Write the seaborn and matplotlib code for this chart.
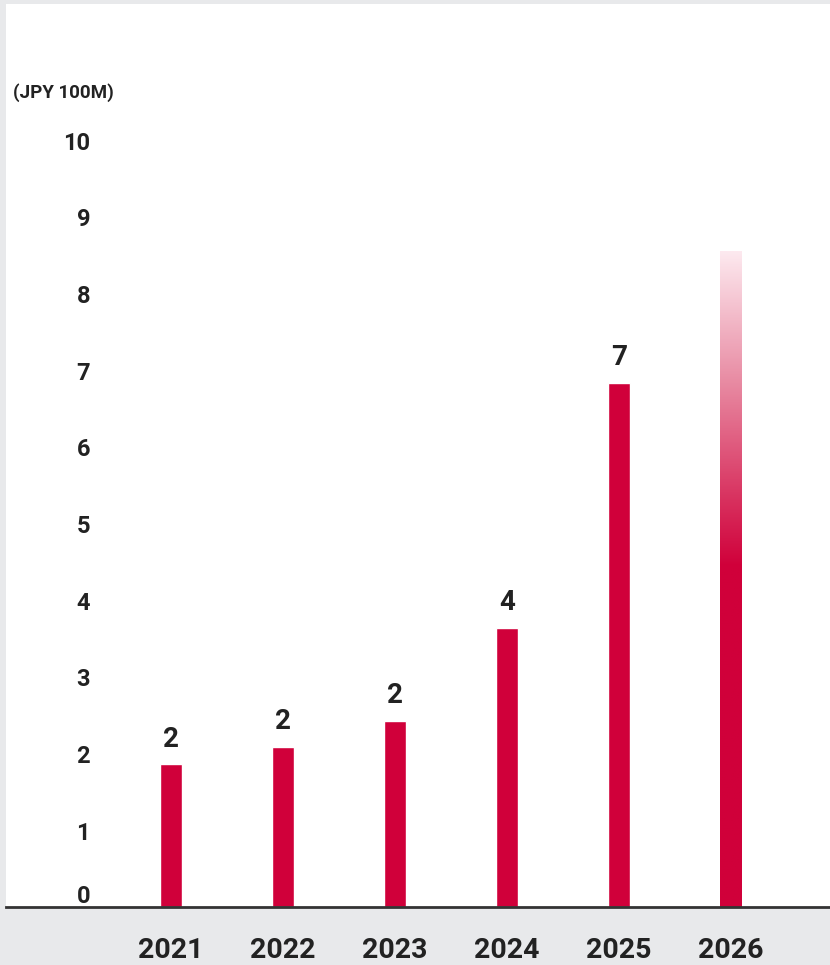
import numpy as np
import pandas as pd
import matplotlib.pyplot as plt
import seaborn as sns
from matplotlib.colors import LinearSegmentedColormap

# Data
years = ["2021", "2022", "2023", "2024", "2025", "2026"]
revenue = [1.86, 2.09, 2.43, 3.64, 6.83, 8.55]
bar_labels = ["2", "2", "2", "4", "7", ""]
y_ticks = [0, 1, 2, 3, 4, 5, 6, 7, 8, 9, 10]
unit_label = "(JPY 100M)"

RED = "#d0003a"
INK = "#222222"
GRAY = "#e8e9eb"

sns.set_style("white")
plt.rcParams["font.family"] = ["Roboto", "DejaVu Sans"]

W, H = 830, 965
fig = plt.figure(figsize=(W / 100, H / 100), dpi=100)
fig.patch.set_facecolor(GRAY)

# axes in pixel terms: left 6, right 830, top 4, bottom 907
ax = fig.add_axes([6 / W, (H - 907) / H, (830 - 6) / W, (907 - 4) / H])
ax.set_facecolor("white")

df = pd.DataFrame({"year": years, "value": revenue})
sns.barplot(data=df, x="year", y="value", color=RED, width=22 / 112,
            saturation=1, ax=ax)

# scales: 112 px per category, 76.7 px per unit, bar centre of 2021 at x=171
ax.set_xlim((6 - 171) / 112, (830 - 171) / 112)
ax.set_ylim(0, 903 / 76.7)

# gradient on the forecast bar
last = ax.patches[-1]
last.set_facecolor("none")
x0 = last.get_x()
x1 = x0 + last.get_width()
cmap = LinearSegmentedColormap.from_list(
    "fade", [(0, RED), (0.52, RED), (0.62, "#d8305e"), (0.8, "#e88aa2"),
             (1, "#fde9ef")])
grad = np.linspace(0, 1, 256).reshape(-1, 1)
im = ax.imshow(grad, extent=[x0, x1, 0, revenue[-1]], origin="lower",
               cmap=cmap, aspect="auto", zorder=last.get_zorder())
im.set_clip_path(last)

# value labels above bars
for i, (v, lab) in enumerate(zip(revenue, bar_labels)):
    if lab:
        ax.annotate(lab, (i, v), xytext=(0, 8.5), textcoords="offset points",
                    ha="center", va="bottom", fontsize=20, fontweight="bold",
                    color=INK)

# y labels drawn as text, "0" sits above the baseline
ylab_x = (90 - 171) / 112
for t in y_ticks:
    if t == 0:
        ax.text(ylab_x, -0.01, str(t), ha="right", va="bottom", fontsize=17,
                fontweight="bold", color=INK, clip_on=False)
    else:
        ax.text(ylab_x, t - 0.04, str(t), ha="right", va="center", fontsize=17,
                fontweight="bold", color=INK)

ax.text((13 - 171) / 112, (907 - 93) / 76.7, unit_label, ha="left",
        va="center", fontsize=13.5, fontweight="bold", color=INK)

# year labels under the axis
ax.set_xticks(range(len(years)))
ax.set_xticklabels(years, fontsize=20.5, fontweight="bold", color=INK)
ax.tick_params(axis="x", length=0, pad=21.5)
ax.set_yticks([])
ax.set_xlabel("")
ax.set_ylabel("")

for s in ["top", "left", "right"]:
    ax.spines[s].set_visible(False)
ax.spines["bottom"].set_color("#333333")
ax.spines["bottom"].set_linewidth(2)

fig.savefig("out.png", dpi=100, facecolor=GRAY)
